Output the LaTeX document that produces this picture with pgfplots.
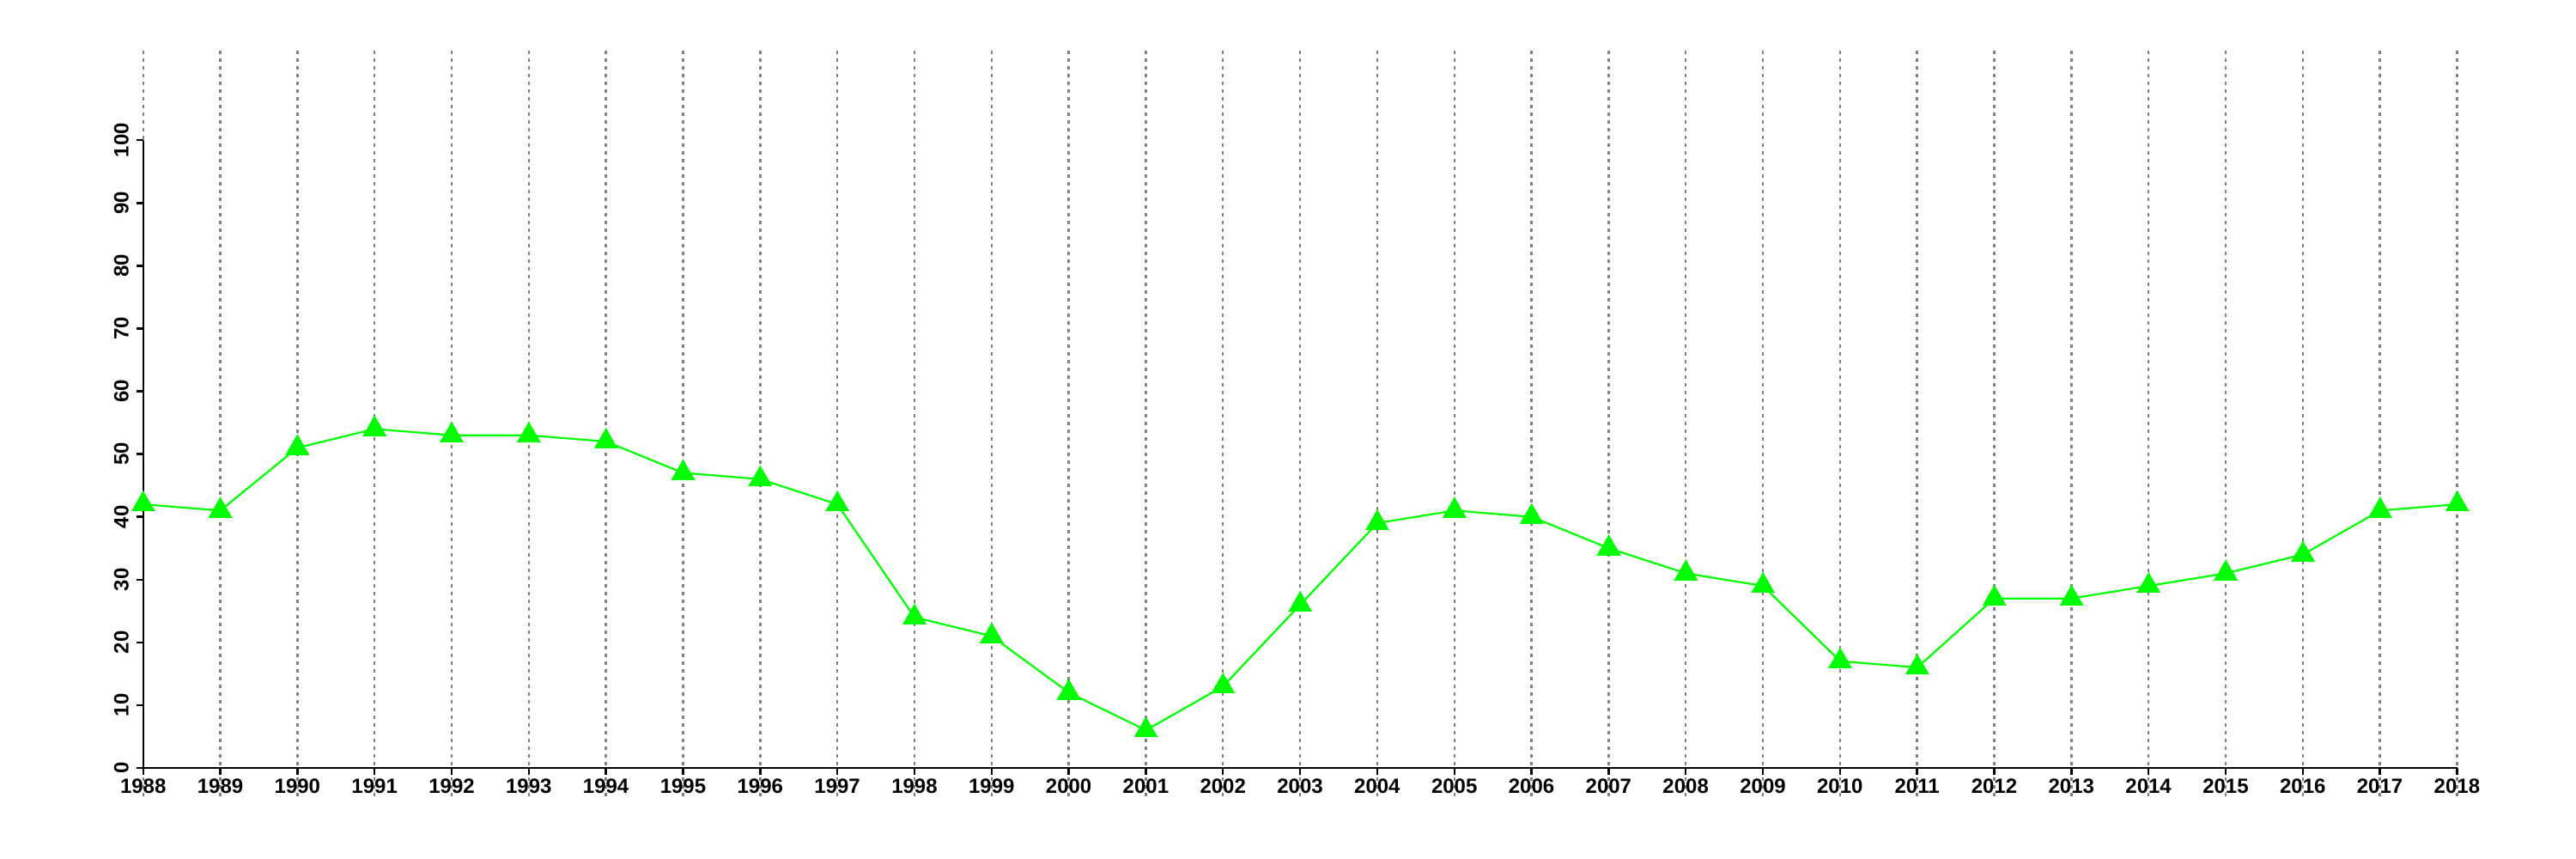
\documentclass[border=0pt]{standalone}
\usepackage{pgfplots}
\pgfplotsset{compat=1.18}
\usepackage{fontspec}
\setmainfont{Liberation Sans}
\definecolor{gridgray}{HTML}{808080}
\definecolor{lgreen}{HTML}{00FF00}
\begin{document}
\begin{tikzpicture}
\begin{axis}[
  scale only axis,
  width=673.75pt, height=216.9pt,
  xmin=1988, xmax=2018,
  ymin=-4.47, ymax=114.27,
  axis x line=middle,
  axis y line=left,
  x axis line style={-, line width=0.6pt, black},
  y axis line style={draw=none},
  hide obscured x ticks=false,
  hide obscured y ticks=false,
  xtick={1988,...,2018},
  ytick={0,10,...,100},
  tick align=outside,
  major tick length=2pt,
  tick style={line width=0.6pt, black},
  xmajorgrids,
  major x grid style={gridgray, line width=0.6pt, dash pattern=on 1pt off 1.25pt},
  /pgf/number format/1000 sep={},
  /pgf/number format/assume math mode=true,
  tick label style={font=\bfseries\fontsize{6}{7}\selectfont},
  xticklabel style={anchor=north, inner sep=0pt, yshift=-1pt},
  yticklabel style={rotate=90, anchor=south, inner sep=0pt, yshift=2pt},
  clip=false,
]
\draw[line width=0.6pt, black] (axis cs:1988,0) -- (axis cs:1988,100);
\addplot[lgreen, line width=0.55pt, mark=triangle*, mark size=3.9pt,
  mark options={fill=lgreen, draw=lgreen, line width=0pt}] coordinates {
(1988,42) (1989,41) (1990,51) (1991,54) (1992,53) (1993,53) (1994,52)
(1995,47) (1996,46) (1997,42) (1998,24) (1999,21) (2000,12) (2001,6)
(2002,13) (2003,26) (2004,39) (2005,41) (2006,40) (2007,35) (2008,31)
(2009,29) (2010,17) (2011,16) (2012,27) (2013,27) (2014,29) (2015,31)
(2016,34) (2017,41) (2018,42)
};
\coordinate (bl) at (axis cs:1986.144,-14.51);
\coordinate (tr) at (axis cs:2019.540,122.35);
\end{axis}
\path (bl) rectangle (tr);
\end{tikzpicture}
\end{document}
